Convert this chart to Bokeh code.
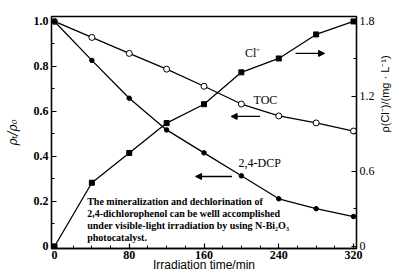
import math
from bokeh.plotting import figure
from bokeh.models import Range1d, LinearAxis, FixedTicker, Arrow, NormalHead, Label
from bokeh.embed import file_html
from bokeh.resources import INLINE

# ---- data ----
time_min = [0, 40, 80, 120, 160, 200, 240, 280, 320]
toc_ratio = [1.0, 0.929, 0.858, 0.788, 0.712, 0.633, 0.580, 0.549, 0.513]
dcp_ratio = [1.0, 0.827, 0.659, 0.518, 0.416, 0.314, 0.212, 0.168, 0.133]
cl_conc = [0.0, 0.51, 0.748, 0.987, 1.138, 1.393, 1.504, 1.696, 1.80]

x_ticks = [0, 80, 160, 240, 320]
x_minor = [20, 40, 60, 100, 120, 140, 180, 200, 220, 260, 280, 300]
left_ticks = [0, 0.2, 0.4, 0.6, 0.8, 1.0]
left_tick_labels = ["0", "0.2", "0.4", "0.6", "0.8", "1.0"]
left_minor = [0.1, 0.3, 0.5, 0.7, 0.9]
right_ticks = [0, 0.6, 1.2, 1.8]
right_tick_labels = ["0", "0.6", "1.2", "1.8"]
right_minor = [0.3, 0.9, 1.5]

x_title = "Irradiation time/min"
left_title = "\u03c1\u209c/\u03c1\u2080"
right_title = "\u03c1(Cl\u207b)/(mg \u00b7 L\u207b\u00b9)"

note_lines = [
    "The mineralization and dechlorination of",
    "2,4-dichlorophenol can be welll accomplished",
    "under visible-light irradiation by using N-Bi\u2082O\u2083",
    "photocatalyst.",
]

SERIF = "Liberation Serif"
SANS = "Liberation Sans"

p = figure(width=399, height=274, x_range=Range1d(-3.2, 323.2),
           y_range=Range1d(-0.009, 1.022), output_backend="svg",
           toolbar_location=None, min_border_left=51, min_border_right=40,
           min_border_top=16, min_border_bottom=26)
p.extra_y_ranges = {"cl": Range1d(-0.009 * 1.8, 1.022 * 1.8)}
p.grid.visible = False
p.outline_line_color = "black"
p.outline_line_width = 1.3
p.background_fill_color = "white"
p.border_fill_color = "white"

def style_axis(ax, ticks, minor, labels, bold=True, size="12px"):
    ax.ticker = FixedTicker(ticks=ticks, minor_ticks=minor)
    ax.major_label_overrides = {t: l for t, l in zip(ticks, labels)}
    ax.axis_line_width = 1.3
    ax.axis_line_color = "black"
    ax.major_tick_in = 5
    ax.major_tick_out = 0
    ax.minor_tick_in = 3
    ax.minor_tick_out = 0
    ax.major_tick_line_width = 1.2
    ax.minor_tick_line_width = 1.0
    ax.major_tick_line_color = "black"
    ax.minor_tick_line_color = "black"
    ax.major_label_text_font = SERIF
    ax.major_label_text_font_style = "bold" if bold else "normal"
    ax.major_label_text_font_size = size
    ax.major_label_text_color = "black"
    ax.axis_label_text_color = "black"
    ax.axis_label_text_font_style = "normal"

xa = p.xaxis[0]
style_axis(xa, x_ticks, x_minor, [str(t) for t in x_ticks], size="12px")
xa.major_label_standoff = 2
xa.axis_label = x_title
xa.axis_label_text_font = SANS
xa.axis_label_text_font_size = "12px"
xa.axis_label_standoff = -4

ya = p.yaxis[0]
style_axis(ya, left_ticks, left_minor, left_tick_labels, size="12px")
ya.major_label_standoff = 3
ya.axis_label = left_title
ya.axis_label_text_font = "DejaVu Serif"
ya.axis_label_text_font_style = "italic"
ya.axis_label_text_font_size = "12px"
ya.axis_label_standoff = 11

ra = LinearAxis(y_range_name="cl")
style_axis(ra, right_ticks, right_minor, right_tick_labels, bold=False, size="12px")
ra.major_label_standoff = 3
ra.axis_label = right_title
ra.axis_label_text_font = SANS
ra.axis_label_text_font_size = "11px"
ra.axis_label_standoff = 7
try:
    ra.axis_label_orientation = math.pi / 2
except Exception:
    pass
p.add_layout(ra, "right")

# ---- series ----
p.line(time_min, toc_ratio, line_color="black", line_width=1.3)
p.scatter(time_min, toc_ratio, marker="circle", size=6, fill_color="white",
          line_color="black", line_width=1)
p.line(time_min, dcp_ratio, line_color="black", line_width=1.3)
p.scatter(time_min, dcp_ratio, marker="circle", size=4.5, fill_color="black",
          line_color="black")
p.line(time_min, cl_conc, line_color="black", line_width=1.3, y_range_name="cl")
p.scatter(time_min, cl_conc, marker="square", size=5, fill_color="black",
          line_color="black", y_range_name="cl")

# ---- annotations ----
for txt, xx, yy in [("Cl\u207b", 204, 0.858), ("TOC", 213, 0.653), ("2,4-DCP", 197, 0.373)]:
    p.add_layout(Label(x=xx, y=yy, text=txt, text_font=SERIF, text_font_size="12px",
                       text_baseline="middle", text_align="left", text_color="black"))

for xs, xe, yy in [(258, 289, 0.858), (220, 189, 0.578), (190, 151, 0.311)]:
    p.add_layout(Arrow(end=NormalHead(size=6, fill_color="black", line_color="black"),
                       x_start=xs, y_start=yy, x_end=xe, y_end=yy,
                       line_color="black", line_width=1.3))

for i, line in enumerate(note_lines):
    p.add_layout(Label(x=35, y=0.2 - i * 0.0533, text=line, text_font=SERIF,
                       text_font_size="10px", text_font_style="bold",
                       text_baseline="middle", text_align="left", text_color="black"))

open("out.html", "w").write(file_html(p, INLINE))
